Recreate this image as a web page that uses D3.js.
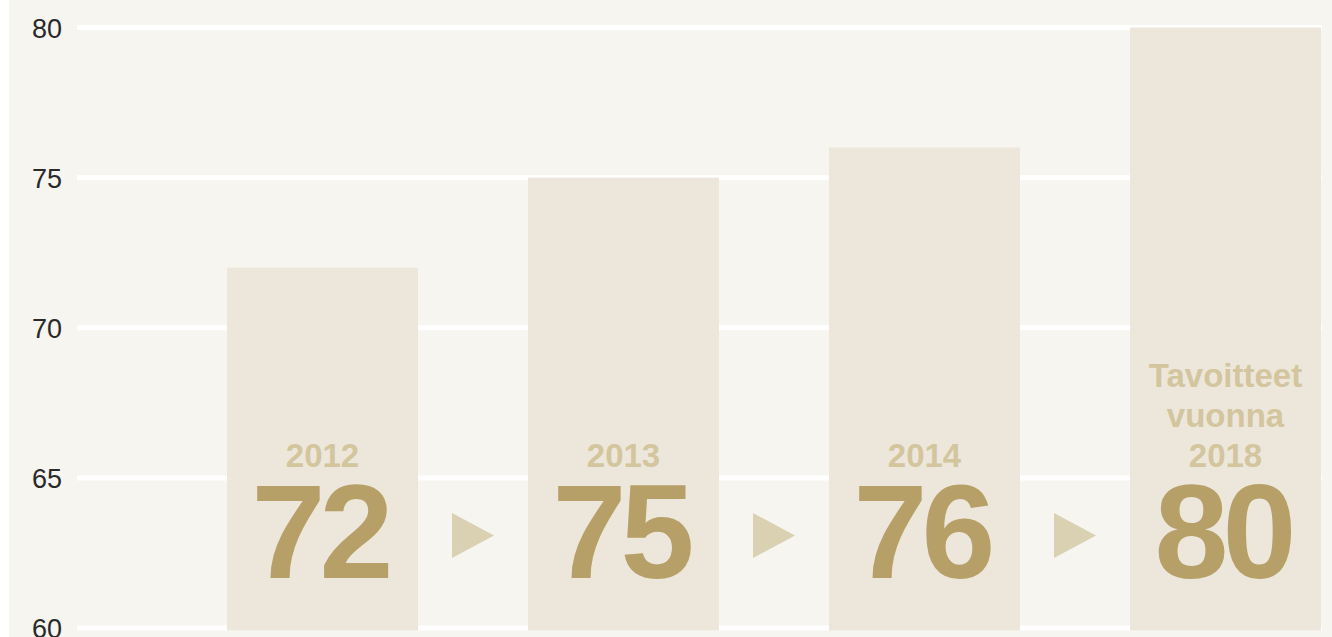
<!DOCTYPE html>
<html lang="fi">
<head>
<meta charset="UTF-8" />
<title>Tavoitteet</title>
<script src="https://d3js.org/d3.v7.min.js"></script>
<style>
  body { margin: 0; background: #ffffff; }
  svg { display: block; }
  .tick text { font-family: "Liberation Sans", Arial, sans-serif; font-size: 27px; fill: #2a2a2a; }
  .year { font-family: "Liberation Sans", Arial, sans-serif; font-weight: bold; font-size: 33px; fill: #d3c59d; }
  .big { font-family: "Liberation Sans", Arial, sans-serif; font-weight: bold; font-size: 133px; fill: #b6a068; letter-spacing: -6px; }
</style>
</head>
<body>
<script>
  const categories = ["2012", "2013", "2014", "2018"];
  const labels = [["2012"], ["2013"], ["2014"], ["Tavoitteet", "vuonna", "2018"]];
  const values = [72, 75, 76, 80];
  const ticks = [60, 65, 70, 75, 80];

  const W = 1332, H = 637;
  const svg = d3.select("body").append("svg").attr("width", W).attr("height", H);

  svg.append("rect").attr("x", 9).attr("y", 0).attr("width", W - 9).attr("height", H).attr("fill", "#f6f5f0");

  const y = d3.scaleLinear().domain([60, 80]).range([628, 27.5]);
  const x = d3.scaleBand().domain(categories).range([227, 1321]).paddingInner(0.3654).paddingOuter(0);

  // grid lines
  svg.append("g").selectAll("line").data(ticks).join("line")
    .attr("x1", 77).attr("x2", 1322)
    .attr("y1", d => y(d)).attr("y2", d => y(d))
    .attr("stroke", "#ffffff").attr("stroke-width", 5);

  // axis labels
  const axis = svg.append("g").attr("transform", "translate(62,0)")
    .call(d3.axisLeft(y).tickValues(ticks).tickSize(0).tickPadding(0));
  axis.select(".domain").remove();
  axis.selectAll(".tick text").attr("dy", "0.36em");

  // bars
  svg.append("g").selectAll("rect").data(values).join("rect")
    .attr("x", (d, i) => x(categories[i]))
    .attr("width", x.bandwidth())
    .attr("y", d => y(d))
    .attr("height", d => y(60) + 2.5 - y(d))
    .attr("fill", "#ede7db");

  // arrows between bars
  svg.append("g").selectAll("path").data(values.slice(0, -1)).join("path")
    .attr("d", (d, i) => {
      const cx = (x(categories[i]) + x.bandwidth() + x(categories[i + 1])) / 2;
      const cy = 535.5;
      return `M${cx - 21},${cy - 22.5}L${cx + 21},${cy}L${cx - 21},${cy + 22.5}Z`;
    })
    .attr("fill", "#dad0b2");

  // labels inside bars
  const g = svg.append("g").selectAll("g").data(values).join("g")
    .attr("transform", (d, i) => `translate(${x(categories[i]) + x.bandwidth() / 2},0)`);

  g.each(function (d, i) {
    const lines = labels[i];
    d3.select(this).selectAll("text.year").data(lines).join("text")
      .attr("class", "year")
      .attr("text-anchor", "middle")
      .attr("y", (t, j) => 467 - (lines.length - 1 - j) * 40)
      .text(t => t);
  });

  g.append("text").attr("class", "big")
    .attr("text-anchor", "middle")
    .attr("x", -3)
    .attr("y", 578)
    .text(d => d);
</script>
</body>
</html>
